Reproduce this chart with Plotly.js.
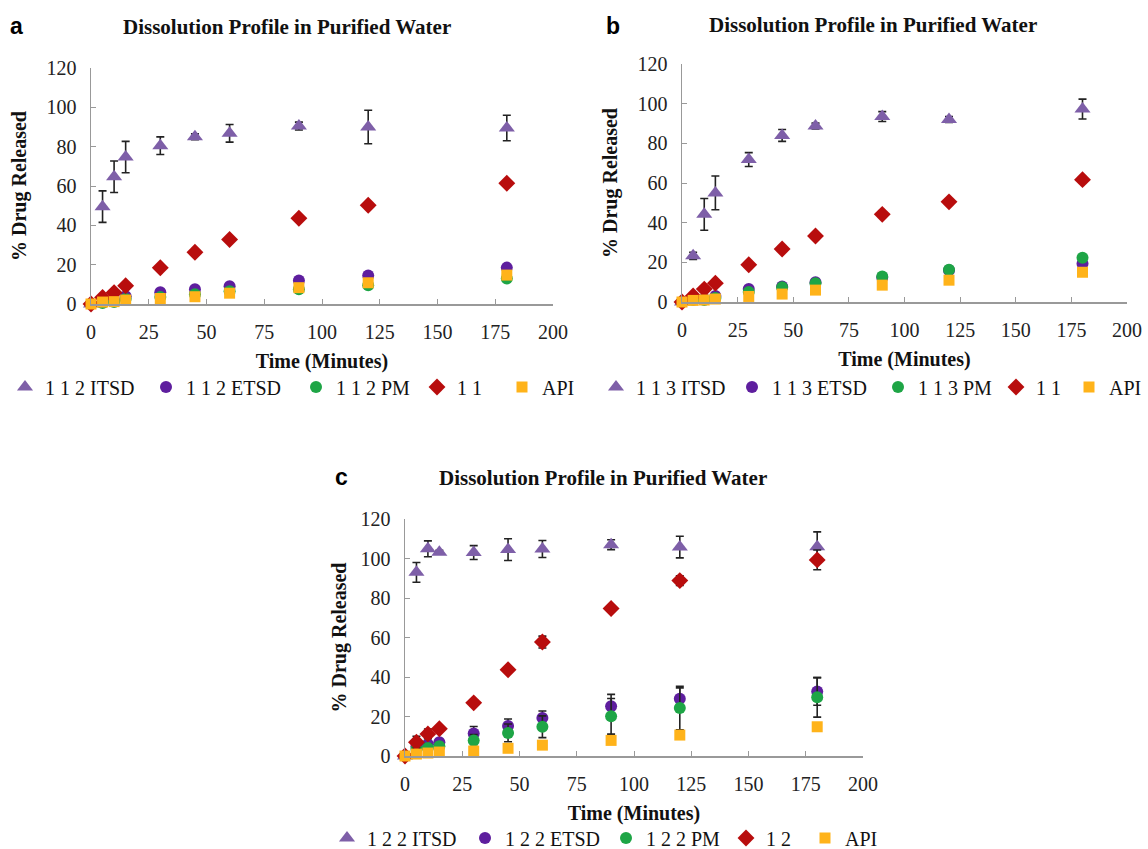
<!DOCTYPE html>
<html>
<head>
<meta charset="utf-8">
<script src="https://cdn.plot.ly/plotly-3.0.1.min.js"></script>
<style>html,body{margin:0;padding:0;background:#fff}#chart{width:1148px;height:849px}</style>
</head>
<body>
<div id="chart"></div>
<script>
// ---- data ----
const time = [0, 5, 10, 15, 30, 45, 60, 90, 120, 180];

const namesA = ["1 1 2 ITSD", "1 1 2 ETSD", "1 1 2 PM", "1 1", "API"];
const namesB = ["1 1 3 ITSD", "1 1 3 ETSD", "1 1 3 PM", "1 1", "API"];
const namesC = ["1 2 2 ITSD", "1 2 2 ETSD", "1 2 2 PM", "1 2", "API"];

const aITSD = [0, 49.5, 64.7, 74.7, 80.5, 85, 86.8, 90.5, 90, 89.5];
const aITSDerr = [0, 8, 8, 8, 4.5, 1.5, 4.5, 2, 8.5, 6.5];
const aETSD = [0, 1, 2, 4, 6, 7.5, 9, 12, 14.5, 18.5];
const aPM = [0, 0.5, 1, 2.5, 3.5, 5, 6.5, 7.5, 9.5, 13];
const a11 = [0, 3.3, 5.8, 9.3, 18.4, 26.3, 32.8, 43.6, 50.2, 61.4];
const aAPI = [0, 1, 1.2, 2, 2.8, 3.7, 5.5, 8.3, 10.8, 14.7];

const bITSD = [0, 23.3, 44.2, 55, 71.8, 84, 88.7, 93.5, 92, 97.3];
const bITSDerr = [0, 1.8, 8, 8.5, 3.5, 3, 1.5, 2.5, 1.5, 5];
const bETSD = [0, 1.5, 1.5, 3, 6.5, 7.8, 10, 12.3, 16, 19.3];
const bPM = [0, 1, 1, 2, 5, 7.5, 9.5, 12.8, 16.3, 22.3];
const b11 = [0, 3, 6.5, 9.5, 18.8, 26.7, 33.3, 44.2, 50.5, 61.7];
const bAPI = [0, 0.8, 1, 1.5, 2.8, 4, 6, 8.5, 11, 15];

const cITSD = [0, 93, 104.9, 103.2, 103, 104.5, 104.8, 107, 105.8, 106];
const cITSDerr = [0, 5, 4, 1, 3.5, 5.5, 4.3, 2.5, 5.5, 7.5];
const cETSD = [0, 5, 6, 7, 11.4, 15.2, 19.3, 25.2, 29, 32.7];
const cETSDerr = [0, 1, 3, 1, 3.5, 3.5, 3.5, 6, 5.5, 7];
const cPM = [0, 3.5, 4, 5, 7.9, 11.7, 14.8, 20.1, 24.3, 29.7];
const cPMerr = [0, 1, 2, 1, 3, 4.5, 5.5, 9, 11, 10];
const c12 = [0, 7, 11.2, 13.8, 26.9, 43.7, 57.7, 74.7, 88.8, 99.3];
const c12err = [0, 3, 2.5, 1, 1.5, 1, 3, 1.5, 2.5, 5];
const cAPI = [0, 1, 1.5, 2, 2.5, 3.9, 5.5, 7.9, 10.6, 14.8];

const xTicks = [0, 25, 50, 75, 100, 125, 150, 175, 200];
const yTicks = [0, 20, 40, 60, 80, 100, 120];
const panelTitle = "Dissolution Profile in Purified Water";
const xTitle = "Time (Minutes)";
const yTitle = "% Drug Released";

// ---- styles ----
const serif = "Liberation Serif";
const styles = [
  {symbol: "triangle-up", color: "#7E5FA8", size: 14},
  {symbol: "circle", color: "#5E1E9E", size: 12},
  {symbol: "circle", color: "#1EA546", size: 12},
  {symbol: "diamond", color: "#B80D0D", size: 13},
  {symbol: "square", color: "#FFB31A", size: 11}
];

const W = 1148, H = 849;
const px = v => v / W, py = v => 1 - v / H;

// legend symbol positions (pixels) for each panel's items, and legend row y
const legSymA = [29, 170, 320, 441, 526], legYA = 387;
const legSymB = [620, 756, 902, 1020, 1093], legYB = 387;
const legSymC = [351, 489, 630, 750, 829], legYC = 838;

const layout = {
  width: W, height: H, margin: {l: 0, r: 0, t: 0, b: 0, autoexpand: false},
  paper_bgcolor: "#fff", plot_bgcolor: "#fff", showlegend: true
};

function mk(y, idx, name, ax, legendId, err) {
  const t = {
    x: time, y: y, type: "scatter", mode: "markers", name: name,
    xaxis: ax[0], yaxis: ax[1], legend: legendId, cliponaxis: false,
    marker: {symbol: styles[idx].symbol, color: styles[idx].color, size: styles[idx].size}
  };
  if (err) t.error_y = {type: "data", array: err, visible: true, color: "#222", thickness: 1.6, width: 4};
  return t;
}
function leg(xSym, y) {
  return {
    orientation: "h", x: px(xSym - 24), y: py(y), xanchor: "left", yanchor: "middle",
    font: {family: serif, size: 20, color: "#111"}, itemwidth: 30, bgcolor: "rgba(0,0,0,0)",
    itemclick: false, itemdoubleclick: false
  };
}

const traces = [];
const panels = [
  {sets: [aITSD, aETSD, aPM, a11, aAPI], errs: [aITSDerr, null, null, null, null], names: namesA, ax: ["x", "y"], legX: legSymA, legY: legYA},
  {sets: [bITSD, bETSD, bPM, b11, bAPI], errs: [bITSDerr, null, null, null, null], names: namesB, ax: ["x2", "y2"], legX: legSymB, legY: legYB},
  {sets: [cITSD, cETSD, cPM, c12, cAPI], errs: [cITSDerr, cETSDerr, cPMerr, c12err, null], names: namesC, ax: ["x3", "y3"], legX: legSymC, legY: legYC}
];
let n = 0;
panels.forEach(p => {
  for (let i = 0; i < 5; i++) {
    n++;
    const id = n === 1 ? "legend" : "legend" + n;
    traces.push(mk(p.sets[i], i, p.names[i], p.ax, id, p.errs[i]));
    layout[id] = leg(p.legX[i], p.legY);
  }
});

function xax(d0, d1, anchor) {
  return {
    domain: [px(d0), px(d1)], anchor: anchor, range: [0, 200], tickvals: xTicks,
    ticks: "inside", ticklen: 5, tickcolor: "#999", showline: true, linecolor: "#999", linewidth: 1.5,
    showgrid: false, zeroline: false, ticklabelstandoff: 9,
    tickfont: {family: serif, size: 20, color: "#222"},
    title: {text: xTitle, font: {family: serif, size: 20, color: "#111", weight: "bold"}, standoff: 12}
  };
}
function yax(d0, d1, anchor, standoff) {
  return {
    domain: [py(d0), py(d1)], anchor: anchor, range: [0, 120], tickvals: yTicks,
    ticks: "inside", ticklen: 5, tickcolor: "#999", showline: true, linecolor: "#999", linewidth: 1.5,
    showgrid: false, zeroline: false, ticklabelstandoff: 9,
    tickfont: {family: serif, size: 20, color: "#222"},
    title: {text: yTitle, font: {family: serif, size: 20, color: "#111", weight: "bold"}, standoff: standoff}
  };
}
function ann(text, x, y, font) {
  return {text: text, x: px(x), y: py(y), xref: "paper", yref: "paper", showarrow: false,
    xanchor: "center", yanchor: "middle", font: font};
}
const titleFont = {family: serif, size: 21, color: "#111", weight: "bold"};
const letterFont = {family: "Liberation Sans", size: 23, color: "#000", weight: "bold"};

Object.assign(layout, {
  xaxis: xax(91, 553, "y"), yaxis: yax(304, 68, "x", 14),
  xaxis2: xax(682, 1127, "y2"), yaxis2: yax(302, 64, "x2", 14),
  xaxis3: xax(405, 863, "y3"), yaxis3: yax(756, 519, "x3", 8),
  annotations: [
    ann(panelTitle, 287, 27, titleFont), ann(panelTitle, 873, 25, titleFont), ann(panelTitle, 603, 478, titleFont),
    ann("a", 16, 26, letterFont), ann("b", 613, 26, letterFont), ann("c", 341, 477, letterFont)
  ]
});

Plotly.newPlot("chart", traces, layout, {staticPlot: true, displayModeBar: false});
</script>
</body>
</html>
